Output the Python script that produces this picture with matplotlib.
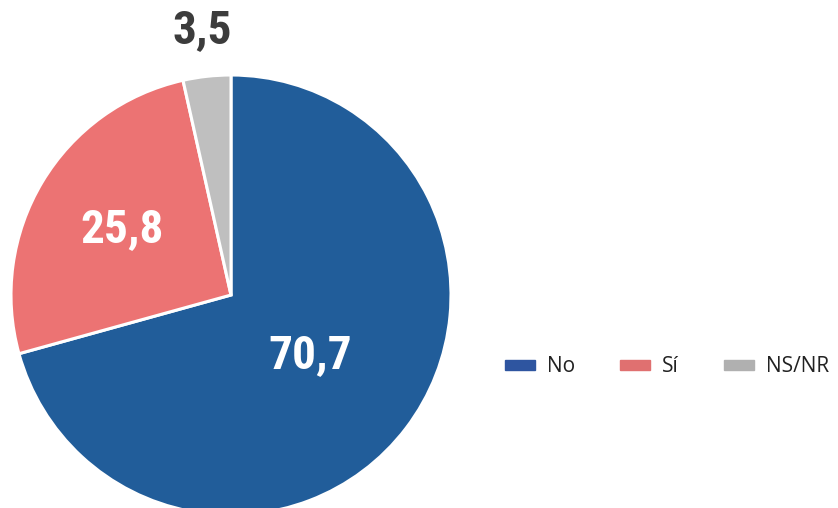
import numpy as np
import matplotlib.pyplot as plt

labels = ["No", "Sí", "NS/NR"]
values = [70.7, 25.8, 3.5]
value_text = ["70,7", "25,8", "3,5"]
colors = ["#215d9a", "#ec7373", "#bfbfbf"]
legend_colors = ["#2e55a0", "#e07070", "#b0b0b0"]
text_colors = ["white", "white", "#3c3c3c"]
label_dist = [0.45, 0.58, 1.21]

num_font = ["Roboto Condensed", "Open Sans Condensed", "DejaVu Sans Condensed", "Roboto", "DejaVu Sans"]

fig = plt.figure(figsize=(8.38, 5.08), dpi=100)
# pie circle: centre (231, 295) px, radius 220 px
ax = fig.add_axes([11 / 838, -7 / 508, 440 / 838, 440 / 508])

wedges, _ = ax.pie(values, colors=colors, startangle=90, counterclock=False,
                   wedgeprops=dict(edgecolor="white", linewidth=2.2))
ax.set_xlim(-1, 1)
ax.set_ylim(-1, 1)
ax.set_aspect("equal")
ax.axis("off")

for w, t, c, d in zip(wedges, value_text, text_colors, label_dist):
    ang = np.deg2rad((w.theta1 + w.theta2) / 2)
    ax.text(d * np.cos(ang), d * np.sin(ang), t, ha="center", va="center",
            color=c, fontsize=34, fontweight="bold", fontstretch="condensed",
            family=num_font, clip_on=False)

handles = [plt.Rectangle((0, 0), 1, 1, color=c) for c in legend_colors]
leg = fig.legend(handles, labels, loc="center left", bbox_to_anchor=(505 / 838, 0.278),
                 ncol=3, frameon=False, borderaxespad=0, borderpad=0,
                 handlelength=1.44, handleheight=0.37,
                 columnspacing=2.15, handletextpad=0.58,
                 prop=dict(family="Open Sans", size=15))
for t in leg.get_texts():
    t.set_color("#222222")

fig.savefig("out.png", dpi=100)
